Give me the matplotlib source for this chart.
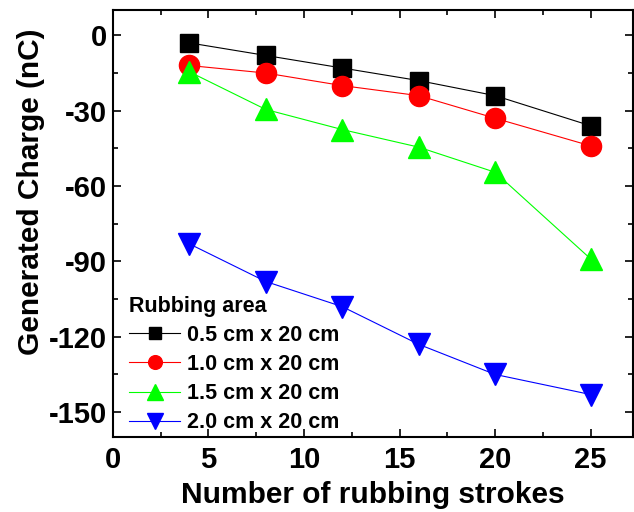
import matplotlib
matplotlib.use("Agg")
import matplotlib.pyplot as plt
from matplotlib.ticker import MultipleLocator

plt.rcParams['font.family'] = ['Liberation Sans', 'DejaVu Sans']
plt.rcParams['font.weight'] = 'bold'
plt.rcParams['axes.unicode_minus'] = False

strokes = [4, 8, 12, 16, 20, 25]
area_05 = [-3, -8, -13, -18, -24, -36]
area_10 = [-12, -15, -20, -24, -33, -44]
area_15 = [-14.5, -29.5, -37.5, -44.5, -54.5, -89]
area_20 = [-83, -98, -108, -123, -135, -143]
labels = ['0.5 cm x 20 cm', '1.0 cm x 20 cm', '1.5 cm x 20 cm', '2.0 cm x 20 cm']

fig = plt.figure(figsize=(6.34, 5.12), dpi=100)
ax = fig.add_axes([0.178, 0.146, 0.82, 0.834])

ax.plot(strokes, area_05, '-s', color='black', lw=0.8, ms=13, label=labels[0])
ax.plot(strokes, area_10, '-o', color='red', lw=0.8, ms=14.5, label=labels[1])
ax.plot(strokes, area_15, '-^', color='#00ff00', lw=0.8, ms=16, label=labels[2])
ax.plot(strokes, area_20, '-v', color='blue', lw=0.8, ms=16, label=labels[3])

ax.set_xlim(0, 27.2)
ax.set_ylim(-160, 10)
ax.xaxis.set_major_locator(MultipleLocator(5))
ax.xaxis.set_minor_locator(MultipleLocator(2.5))
ax.yaxis.set_major_locator(MultipleLocator(30))
ax.yaxis.set_minor_locator(MultipleLocator(15))
ax.tick_params(which='both', direction='in', top=True, right=True, width=1.2)
ax.tick_params(which='major', length=6, labelsize=21)
ax.tick_params(axis='x', which='major', pad=6)
ax.tick_params(axis='y', which='major', pad=4)
ax.tick_params(which='minor', length=3.5)
for s in ax.spines.values():
    s.set_linewidth(1.5)

ax.set_xlabel('Number of rubbing strokes', fontsize=21.5, fontweight='bold', labelpad=5)
ax.set_ylabel('Generated Charge (nC)', fontsize=21.5, fontweight='bold')
ax.yaxis.set_label_coords(-0.13, 0.575)

leg = ax.legend(loc='lower left', bbox_to_anchor=(0.01, -0.016), frameon=False,
                title='Rubbing area', title_fontproperties={'weight': 'bold', 'size': 15.5},
                prop={'weight': 'bold', 'size': 15.5}, markerscale=0.68,
                handlelength=2.4, handletextpad=0.3, labelspacing=0.38,
                borderaxespad=0.1, alignment='left')

fig.savefig('out.png', dpi=100)
